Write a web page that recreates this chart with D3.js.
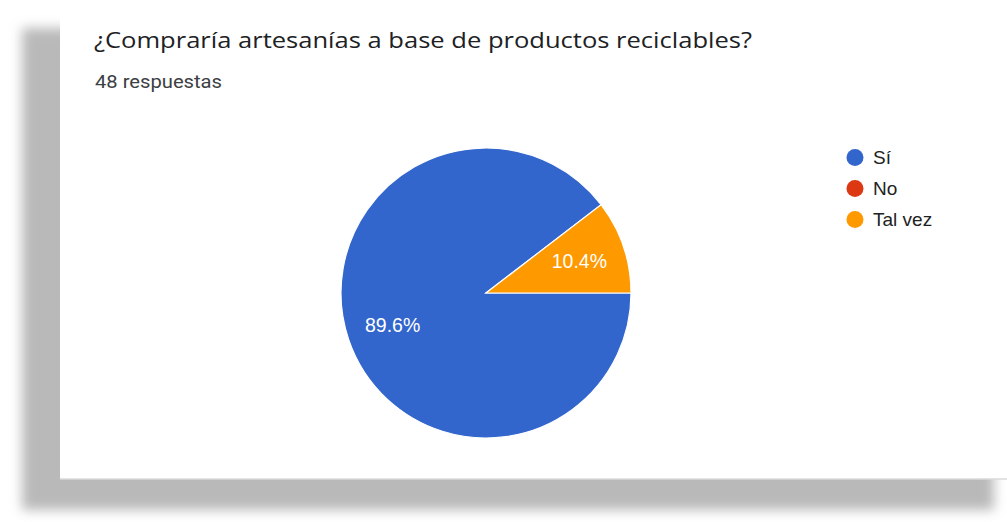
<!DOCTYPE html>
<html>
<head>
<meta charset="utf-8">
<script src="https://cdn.jsdelivr.net/npm/d3@7"></script>
<style>
  body { margin: 0; background: #fff; }
  svg { display: block; }
</style>
</head>
<body>
<div id="chart"></div>
<script>
// chart data
const title = '¿Compraría artesanías a base de productos reciclables?'
const subtitle = '48 respuestas'
const categories = ['Sí', 'No', 'Tal vez']
const counts = [43, 0, 5]
const colors = ['#3366cc', '#dc3912', '#ff9900']

const width = 1007
const height = 522

const svg = d3.select('#chart')
  .append('svg')
  .attr('width', width)
  .attr('height', height)

// drop shadow behind the card
const defs = svg.append('defs')
defs.append('filter')
  .attr('id', 'blur')
  .attr('x', '-10%').attr('y', '-10%')
  .attr('width', '120%').attr('height', '120%')
  .append('feGaussianBlur')
  .attr('stdDeviation', 6)

svg.append('rect')
  .attr('x', 22)
  .attr('y', 28)
  .attr('width', 972)
  .attr('height', 482)
  .attr('fill', '#b9b9b9')
  .attr('filter', 'url(#blur)')

// card
svg.append('rect')
  .attr('x', 60)
  .attr('y', -2)
  .attr('width', width - 58)
  .attr('height', 481)
  .attr('fill', '#fff')
svg.append('line')
  .attr('x1', 60).attr('x2', width)
  .attr('y1', 479).attr('y2', 479)
  .attr('stroke', '#dadada')
  .attr('stroke-width', 1.5)

// titles
svg.append('text')
  .attr('x', 94)
  .attr('y', 48)
  .attr('font-family', '"Open Sans", Roboto, sans-serif')
  .attr('font-size', 22.5)
  .attr('fill', '#202124')
  .attr('textLength', 658)
  .attr('lengthAdjust', 'spacingAndGlyphs')
  .text(title)

svg.append('text')
  .attr('x', 95)
  .attr('y', 88)
  .attr('font-family', 'Roboto, sans-serif')
  .attr('font-size', 17.5)
  .attr('fill', '#3c4043')
  .attr('textLength', 127)
  .attr('lengthAdjust', 'spacingAndGlyphs')
  .text(subtitle)

// pie
const cx = 486
const cy = 293
const radius = 145
const total = d3.sum(counts)

const pie = d3.pie()
  .sort(null)
  .startAngle(Math.PI / 2)
  .endAngle(Math.PI / 2 + 2 * Math.PI)
  .value((d) => d.count)

const data = categories.map((c, i) => ({ name: c, count: counts[i], color: colors[i] }))
const arcs = pie(data).filter((d) => d.data.count > 0)

const arc = d3.arc().innerRadius(0).outerRadius(radius)
const labelArc = d3.arc().innerRadius(radius * 0.68).outerRadius(radius * 0.68)

const g = svg.append('g').attr('transform', `translate(${cx},${cy})`)

g.selectAll('path')
  .data(arcs)
  .join('path')
  .attr('d', arc)
  .attr('fill', (d) => d.data.color)
  .attr('stroke', '#fff')
  .attr('stroke-width', 1.2)

g.selectAll('text')
  .data(arcs)
  .join('text')
  .attr('transform', (d) => `translate(${labelArc.centroid(d)})`)
  .attr('text-anchor', 'middle')
  .attr('dy', '0.36em')
  .attr('font-family', 'Arial, "Liberation Sans", sans-serif')
  .attr('font-size', 19.5)
  .attr('fill', '#fff')
  .text((d) => (d.data.count / total * 100).toFixed(1) + '%')

// legend
const legendY = d3.scaleBand()
  .domain(categories)
  .range([142, 235])

const legend = svg.append('g')
  .selectAll('g')
  .data(data)
  .join('g')
  .attr('transform', (d) => `translate(855,${legendY(d.name) + legendY.bandwidth() / 2})`)

legend.append('circle')
  .attr('r', 8.5)
  .attr('fill', (d) => d.color)

legend.append('text')
  .attr('x', 18)
  .attr('dy', '0.36em')
  .attr('font-family', 'Arial, "Liberation Sans", sans-serif')
  .attr('font-size', 19)
  .attr('fill', '#222')
  .text((d) => d.name)
</script>
</body>
</html>
